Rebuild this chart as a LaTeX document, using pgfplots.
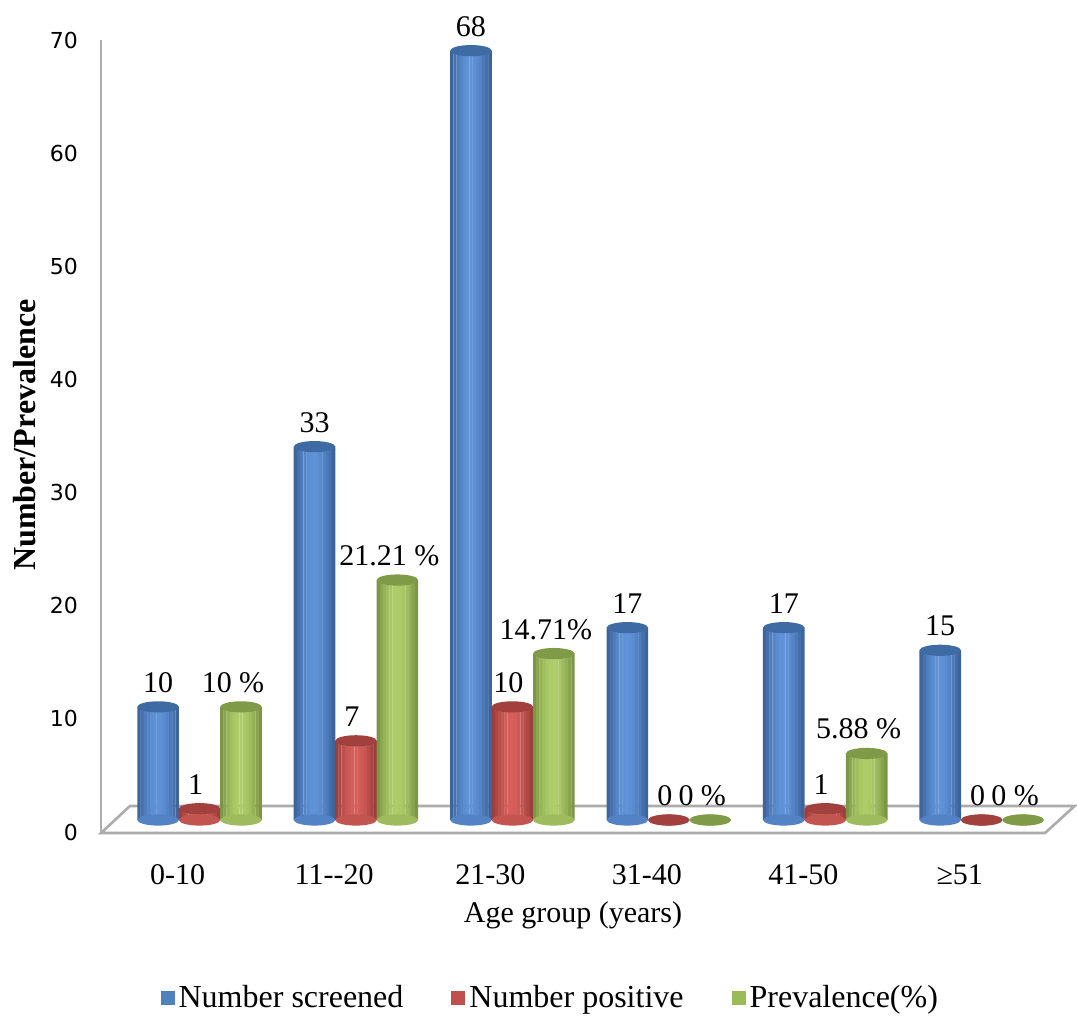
\documentclass[border=0pt]{standalone}
\usepackage{fontspec}
\setmainfont{Liberation Serif}
\newfontfamily\tickfont{DejaVu Sans}
\usepackage{pgfplots}
\usepackage{pgfplotstable}
\pgfplotsset{compat=1.18}
\definecolor{bD}{HTML}{33578A}
\definecolor{bM}{HTML}{5F92D8}
\definecolor{bT}{HTML}{3F6BA4}
\definecolor{rD}{HTML}{8C3532}
\definecolor{rM}{HTML}{D65F5B}
\definecolor{rT}{HTML}{A2403D}
\definecolor{gD}{HTML}{6D873B}
\definecolor{gM}{HTML}{AECD69}
\definecolor{gT}{HTML}{7F9B48}
\definecolor{bL}{HTML}{4F81BD}
\definecolor{rL}{HTML}{C0504D}
\definecolor{gL}{HTML}{9BBB59}
\pgfdeclareplotmark{cap}{\pgfpathellipse{\pgfpointorigin}{\pgfqpoint{\pgfplotmarksize}{0pt}}{\pgfqpoint{0pt}{0.27\pgfplotmarksize}}\pgfusepathqfill}
\pgfplotstableread[col sep=comma]{
x,s,p,v,vl
0,10,1,10,10 \%
1,33,7,21.21,21.21 \%
2,68,10,14.71,14.71\%
3,17,0,0,0 \%
4,17,1,5.88,5.88 \%
5,15,0,0,0 \%
}\data
% cylinder body drawn as 13 vertical strips: #1 column, #2 signed offset, #3 light, #4 dark, #5 percent light
\newcommand{\cylstrip}[5]{%
  \addplot[ybar, bar width=0.0215, bar shift=0pt, draw=none, fill=#3!#5!#4, forget plot]
    table[x expr=\thisrow{x}#2, y=#1]{\data};}
\newcommand{\cyl}[4]{%
  \cylstrip{#1}{#2-0.12231}{#3}{#4}{22}
  \cylstrip{#1}{#2-0.10192}{#3}{#4}{44}
  \cylstrip{#1}{#2-0.08154}{#3}{#4}{64}
  \cylstrip{#1}{#2-0.06115}{#3}{#4}{80}
  \cylstrip{#1}{#2-0.04077}{#3}{#4}{91}
  \cylstrip{#1}{#2-0.02038}{#3}{#4}{98}
  \cylstrip{#1}{#2+0.00000}{#3}{#4}{100}
  \cylstrip{#1}{#2+0.02038}{#3}{#4}{96}
  \cylstrip{#1}{#2+0.04077}{#3}{#4}{88}
  \cylstrip{#1}{#2+0.06115}{#3}{#4}{76}
  \cylstrip{#1}{#2+0.08154}{#3}{#4}{60}
  \cylstrip{#1}{#2+0.10192}{#3}{#4}{42}
  \cylstrip{#1}{#2+0.12231}{#3}{#4}{22}}
\begin{document}
\begin{tikzpicture}
\begin{axis}[at={(0,0)}, anchor=south west, scale only axis,
  width=472pt, height=396pt,
  xmin=-0.49, xmax=5.545, ymin=0, ymax=70, clip=false,
  axis line style={draw=none}, tick style={draw=none}, major tick length=0pt,
  /pgf/number format/assume math mode=true,
  ytick={0,10,...,70},
  yticklabel style={font=\tickfont\fontsize{11}{13}\selectfont, yshift=-6pt, xshift=-8pt},
  xtick={0,...,5},
  xticklabels={0-10,11-{}-20,21-30,31-40,41-50,≥51},
  xticklabel style={font=\fontsize{15}{18}\selectfont, anchor=center, yshift=-27.5pt},
  xlabel={Age group (years)},
  xlabel style={at={(axis description cs:0.5,-0.12)}, anchor=center, font=\fontsize{15}{18}\selectfont},
  ylabel={Number/Prevalence},
  ylabel style={at={(axis description cs:-0.0805,0.486)}, anchor=center, font=\bfseries\fontsize{16}{19}\selectfont},
  legend style={at={(axis description cs:0.477,-0.2247)}, anchor=center, draw=none, legend columns=-1,
    font=\fontsize{16}{19}\selectfont, /tikz/every even column/.append style={column sep=22pt}},
  legend image code/.code={\fill[#1, draw=none] (0pt,-3.5pt) rectangle (7pt,3.5pt);},
  every node near coord/.append style={font=\fontsize{15}{18}\selectfont, text=black, yshift=3.5pt},
]
\addlegendimage{fill=bL}
\addlegendentry{Number screened}
\addlegendimage{fill=rL}
\addlegendentry{Number positive}
\addlegendimage{fill=gL}
\addlegendentry{Prevalence(\%)}

% floor and y axis line
\draw[gray!65, line width=1.3pt, fill=white] (axis cs:-0.49,-1.15) -- (axis cs:5.545,-1.15) -- (axis cs:5.735,1.24) -- (axis cs:-0.305,1.24) -- cycle;
\draw[gray!65, line width=1.3pt] (axis cs:-0.49,-1.15) -- (axis cs:-0.49,68.9);

% Number screened
\addplot[only marks, mark=cap, mark size=10.36pt, mark options={fill=bM!75!bD}, forget plot]
  table[x expr=\thisrow{x}-0.125, y expr=0]{\data};
\cyl{s}{-0.125}{bM}{bD}
\addplot[only marks, mark=cap, mark size=10.36pt, mark options={fill=bT}, forget plot,
  nodes near coords, point meta=explicit symbolic]
  table[x expr=\thisrow{x}-0.125, y=s, meta=s]{\data};

% Number positive
\addplot[only marks, mark=cap, mark size=10.36pt, mark options={fill=rM!75!rD}, forget plot]
  table[x expr=\thisrow{x}+0.14, y expr=0]{\data};
\cyl{p}{+0.14}{rM}{rD}
\addplot[only marks, mark=cap, mark size=10.36pt, mark options={fill=rT}, forget plot,
  nodes near coords, point meta=explicit symbolic, every node near coord/.append style={xshift=-2pt}]
  table[x expr=\thisrow{x}+0.14, y=p, meta=p]{\data};

% Prevalence
\addplot[only marks, mark=cap, mark size=10.36pt, mark options={fill=gM!75!gD}, forget plot]
  table[x expr=\thisrow{x}+0.405, y expr=0]{\data};
\cyl{v}{+0.405}{gM}{gD}
\addplot[only marks, mark=cap, mark size=10.36pt, mark options={fill=gT}, forget plot,
  nodes near coords, point meta=explicit symbolic, every node near coord/.append style={xshift=-4pt}]
  table[x expr=\thisrow{x}+0.405, y=v, meta=vl]{\data};
\end{axis}
\pgfresetboundingbox
\path[use as bounding box] (-50.5pt,-99.5pt) rectangle (488pt,410pt);
\end{tikzpicture}
\end{document}
